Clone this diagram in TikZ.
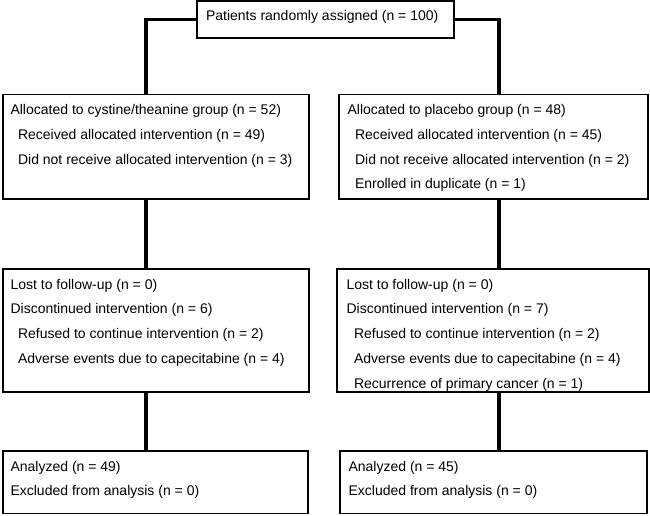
\documentclass[tikz,border=0pt]{standalone}
\usepackage{fontspec}
\setmainfont{Liberation Sans}
\newcommand{\indt}{\hspace*{7.5pt}}
\begin{document}
\begin{tikzpicture}[x=1pt,y=-1pt,
        box/.style={draw,line width=1.3pt,inner sep=0pt},
        txt/.style={anchor=north west,inner sep=0pt,align=left,font=\fontsize{14}{24.7}\selectfont},
        link/.style={line width=3.3pt}]
        \useasboundingbox (0,0) rectangle (650,515);
        % boxes
        \node[box,minimum width=257pt,minimum height=37pt] (rand) at (325.5,19.5) {};
        \node[box,minimum width=306pt,minimum height=104.5pt] (alloc1) at (156,146.75) {};
        \node[box,minimum width=309pt,minimum height=104.5pt] (alloc2) at (493.5,146.75) {};
        \node[box,minimum width=306pt,minimum height=123pt] (lost1) at (156,330.5) {};
        \node[box,minimum width=312pt,minimum height=123pt] (lost2) at (493,330.5) {};
        \node[box,minimum width=305pt,minimum height=62.5pt] (anal1) at (155.5,482.25) {};
        \node[box,minimum width=307pt,minimum height=62.5pt] (anal2) at (493.5,482.25) {};
        % texts
        \node[txt] (randt) at ([shift={(9.5pt,-9.5pt)}]rand.north west) {Patients randomly assigned (n = 100)};
        \node[txt] (alloc1t) at ([shift={(8pt,-10.5pt)}]alloc1.north west) {Allocated to cystine/theanine group (n = 52)\\
            \indt Received allocated intervention (n = 49)\\
            \indt Did not receive allocated intervention (n = 3)};
        \node[txt] (alloc2t) at ([shift={(9pt,-10.5pt)}]alloc2.north west) {Allocated to placebo group (n = 48)\\
            \indt Received allocated intervention (n = 45)\\
            \indt Did not receive allocated intervention (n = 2)\\
            \indt Enrolled in duplicate (n = 1)};
        \node[txt] (lost1t) at ([shift={(8pt,-10.5pt)}]lost1.north west) {Lost to follow-up (n = 0)\\
            Discontinued intervention (n = 6)\\
            \indt Refused to continue intervention (n = 2)\\
            \indt Adverse events due to capecitabine (n = 4)};
        \node[txt] (lost2t) at ([shift={(10pt,-10.5pt)}]lost2.north west) {Lost to follow-up (n = 0)\\
            Discontinued intervention (n = 7)\\
            \indt Refused to continue intervention (n = 2)\\
            \indt Adverse events due to capecitabine (n = 4)\\
            \indt Recurrence of primary cancer (n = 1)};
        \node[txt] (anal1t) at ([shift={(8pt,-10.5pt)}]anal1.north west) {Analyzed (n = 49)\\
            Excluded from analysis (n = 0)};
        \node[txt] (anal2t) at ([shift={(9pt,-10.5pt)}]anal2.north west) {Analyzed (n = 45)\\
            Excluded from analysis (n = 0)};
        % connectors
        \coordinate (lcol) at (146,0);
        \coordinate (rcol) at (499,0);
        \draw[link] (rand.west) -| (lcol |- alloc1.north);
        \draw[link] (rand.east) -| (rcol |- alloc2.north);
        \draw[link] (lcol |- alloc1.south) -- (lcol |- lost1.north);
        \draw[link] (rcol |- alloc2.south) -- (rcol |- lost2.north);
        \draw[link] (lcol |- lost1.south) -- (lcol |- anal1.north);
        \draw[link] (rcol |- lost2.south) -- (rcol |- anal2.north);
    \end{tikzpicture}
\end{document}
